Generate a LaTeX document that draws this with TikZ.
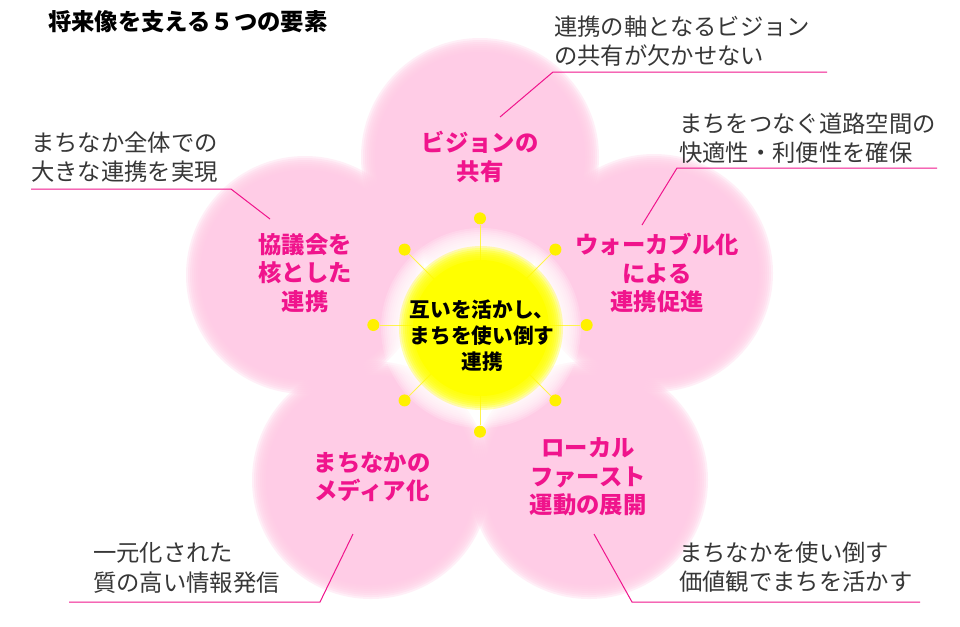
\documentclass[tikz,border=0pt]{standalone}
\usepackage{fontspec}
\setmainfont{Noto Sans CJK JP}
\definecolor{petalpink}{RGB}{255,204,230}
\definecolor{labelpink}{RGB}{240,20,140}
\definecolor{sunyellow}{RGB}{255,255,0}
\definecolor{dotyellow}{RGB}{255,240,0}
\definecolor{notegray}{RGB}{55,55,55}
\begin{document}
\begin{tikzpicture}[x=0.75pt,y=-0.75pt,
  note/.style={anchor=west,align=left,inner sep=0pt,text=notegray,font=\fontsize{17.5pt}{22pt}\selectfont},
  petaltext/.style={align=center,inner sep=0pt,text=labelpink,font=\fontsize{17.5pt}{21.5pt}\selectfont\bfseries},
  leader/.style={draw=labelpink,line width=0.75pt},
  dot/.style={circle,fill=dotyellow,inner sep=0pt,minimum size=9pt},
  ray/.style={draw=dotyellow!70,line width=0.6pt}]
\path[use as bounding box,fill=white] (0,0) rectangle (960,626);
% the title
\node[anchor=west,inner sep=0pt,font=\fontsize{17.5pt}{20pt}\selectfont\bfseries] (title) at (48,22) {将来像を支える５つの要素};
% the five petals, with soft rims
\foreach \x/\y in {480/157, 305/275, 654/273, 371/480, 589/480}{
  \foreach \k in {0,...,6}
    \fill[petalpink,fill opacity=0.3] (\x,\y) circle[radius=119-2*\k];
  \fill[petalpink] (\x,\y) circle[radius=105];
}
% white glow round the sun
\foreach \k in {0,...,9}
  \fill[white,fill opacity=0.18] (481,328) circle[radius=100-2*\k];
\fill[white] (481,328) circle[radius=80];
% the rays and their dots
\coordinate (hub) at (480,325);
\foreach \i in {0,...,7}{
  \node[dot] (d\i) at ([shift={(480,325)}]\i*45:80pt) {};
  \draw[ray] (hub) -- (d\i);
}
% the sun
\foreach \k in {0,...,6}
  \fill[sunyellow,fill opacity=0.3] (481,328) circle[radius=82-2*\k];
\fill[sunyellow] (481,328) circle[radius=68];
\node[align=center,inner sep=0pt,font=\fontsize{15.5pt}{19.5pt}\selectfont\bfseries] (sun) at (482,336) {互いを活かし、\\まちを使い倒す\\連携};
% labels on the petals
\node[petaltext] (vision) at (480,157) {ビジョンの\\共有};
\node[petaltext] (council) at (305,273) {協議会を\\核とした\\連携};
\node[petaltext] (walkable) at (657,273) {ウォーカブル化\\による\\連携促進};
\node[petaltext] (media) at (372,477) {まちなかの\\メディア化};
\node[petaltext] (local) at (588,477) {ローカル\\ファースト\\運動の展開};
% the notes
\node[note] (n1) at (554,41) {連携の軸となるビジョン\\の共有が欠かせない};
\node[note] (n2) at (679,138) {まちをつなぐ道路空間の\\快適性・利便性を確保};
\node[note] (n3) at (31,157) {まちなか全体での\\大きな連携を実現};
\node[note] (n4) at (93,568) {一元化された\\質の高い情報発信};
\node[note] (n5) at (679,567) {まちなかを使い倒す\\価値観でまちを活かす};
% leader lines from the petals to the notes
\foreach \n/\tx/\ty/\bx/\by/\ex in {1/500/117/553/72/827, 2/642/225/677/168/937, 3/270/219/231/189/31, 4/353/534/320/602/69, 5/594/534/632/602/920}{
  \coordinate (tip\n) at (\tx,\ty);
  \coordinate (bend\n) at (\bx,\by);
  \coordinate (end\n) at (\ex,\by);
  \draw[leader] (tip\n) -- (bend\n) -- (end\n);
}
\end{tikzpicture}
\end{document}
